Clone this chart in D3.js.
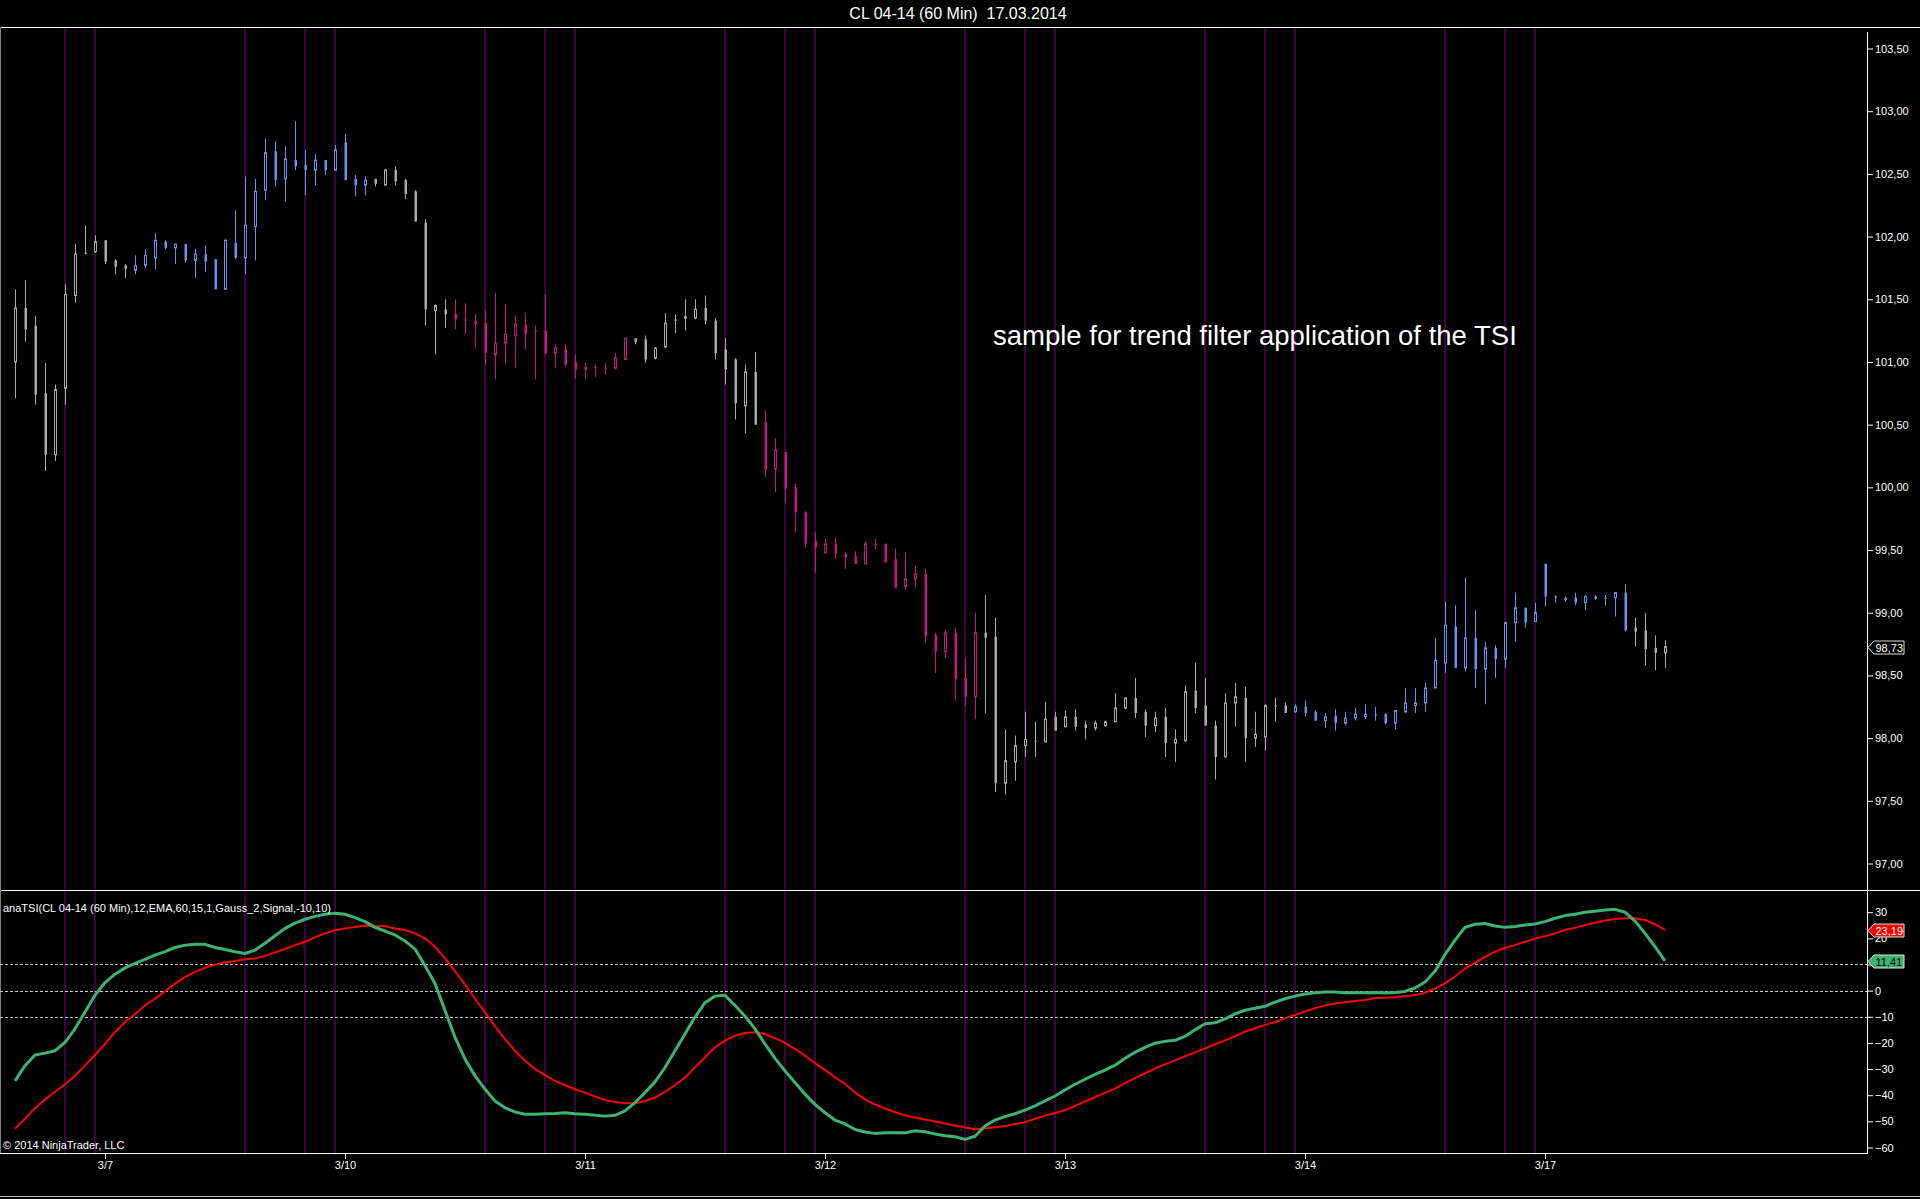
<!DOCTYPE html>
<html>
<head>
<meta charset="utf-8">
<title>CL 04-14 (60 Min) TSI</title>
<script src="https://cdn.jsdelivr.net/npm/d3@7"></script>
<style>
  html, body { margin: 0; padding: 0; background: #000; overflow: hidden; }
  svg { display: block; }
  text { font-family: "Liberation Sans", Arial, sans-serif; }
</style>
</head>
<body>
<div id="chart"></div>
<script>
// hourly bars
const opens = [101.00,101.43,101.29,100.75,100.26,100.79,101.53,101.87,101.88,101.97,101.81,101.77,101.73,101.77,101.83,101.96,101.91,101.94,101.81,101.86,
101.82,101.58,101.95,101.83,102.08,102.37,102.68,102.46,102.61,102.57,102.53,102.61,102.53,102.75,102.46,102.41,102.46,102.41,102.53,102.45,
102.36,102.11,101.41,101.42,101.38,101.34,101.33,101.31,101.06,101.15,101.21,101.30,101.25,101.25,101.07,101.10,101.00,100.96,100.96,100.95,
100.95,101.02,101.19,101.18,101.03,101.12,101.34,101.35,101.35,101.43,101.33,101.10,101.02,100.65,100.92,100.52,100.15,100.28,100.00,99.80,
99.57,99.48,99.55,99.47,99.45,99.39,99.55,99.55,99.43,99.21,99.27,99.31,98.82,98.69,98.84,98.48,98.33,98.84,98.81,97.64,
97.81,97.94,97.98,97.97,98.17,98.09,98.17,98.11,98.08,98.10,98.13,98.24,98.32,98.21,98.10,98.17,97.96,97.98,98.38,98.26,
98.10,97.85,98.28,98.32,98.00,98.01,98.26,98.26,98.21,98.25,98.21,98.14,98.18,98.12,98.16,98.17,98.19,98.19,98.12,98.21,
98.26,98.28,98.40,98.60,98.89,98.56,98.80,98.55,98.72,98.63,98.92,99.04,98.93,99.39,99.13,99.12,99.12,99.08,99.13,99.12,
99.12,99.16,98.88,98.86,98.72,98.68];
const highs = [101.58,101.65,101.37,100.99,100.82,101.62,101.94,102.09,102.01,101.97,101.82,101.78,101.85,101.90,102.03,101.97,101.94,101.94,101.90,101.93,
101.82,101.98,102.21,102.48,102.46,102.78,102.76,102.72,102.92,102.69,102.66,102.61,102.73,102.82,102.49,102.48,102.46,102.54,102.56,102.46,
102.37,102.14,101.46,101.50,101.50,101.47,101.38,101.41,101.55,101.46,101.37,101.39,101.29,101.54,101.14,101.14,101.06,100.99,100.98,100.99,
101.07,101.19,101.19,101.21,101.12,101.39,101.38,101.50,101.50,101.53,101.35,101.19,101.03,100.98,101.08,100.62,100.39,100.28,100.03,99.81,
99.64,99.59,99.60,99.48,99.49,99.57,99.59,99.55,99.51,99.48,99.37,99.35,98.84,98.86,98.88,98.64,99.00,99.14,98.96,98.07,
98.02,98.21,98.13,98.29,98.21,98.22,98.23,98.14,98.14,98.14,98.36,98.32,98.48,98.23,98.21,98.24,98.07,98.42,98.60,98.48,
98.14,98.36,98.44,98.41,98.21,98.27,98.32,98.28,98.27,98.30,98.22,98.20,98.23,98.21,98.24,98.27,98.25,98.20,98.22,98.40,
98.40,98.44,98.80,99.09,99.06,99.28,99.02,98.77,98.74,98.93,99.16,99.04,99.08,99.39,99.14,99.13,99.16,99.14,99.14,99.14,
99.16,99.23,98.96,99.00,98.82,98.78];
const lows = [100.71,101.16,100.66,100.13,100.21,100.66,101.47,101.86,101.87,101.78,101.70,101.67,101.70,101.75,101.74,101.90,101.78,101.79,101.67,101.72,
101.58,101.58,101.82,101.70,101.81,102.29,102.40,102.28,102.53,102.33,102.41,102.49,102.53,102.45,102.32,102.33,102.40,102.41,102.41,102.30,
102.12,101.29,101.06,101.27,101.26,101.22,101.11,100.98,100.86,100.98,100.95,101.10,100.86,101.06,100.95,100.96,100.87,100.86,100.88,100.90,
100.94,101.02,101.14,100.99,101.02,101.11,101.23,101.25,101.34,101.30,101.02,100.82,100.54,100.43,100.50,100.08,99.96,99.88,99.64,99.52,
99.32,99.47,99.43,99.35,99.39,99.39,99.51,99.40,99.20,99.18,99.20,98.76,98.52,98.64,98.30,98.26,98.15,98.20,97.57,97.55,
97.66,97.85,97.85,97.97,98.06,98.09,98.06,97.99,98.06,98.09,98.13,98.23,98.16,98.01,98.05,97.85,97.81,97.97,98.20,98.10,
97.67,97.85,98.09,97.81,97.93,97.90,98.13,98.20,98.20,98.17,98.14,98.08,98.06,98.10,98.14,98.15,98.14,98.11,98.07,98.20,
98.20,98.21,98.40,98.52,98.56,98.53,98.40,98.27,98.48,98.56,98.77,98.88,98.93,99.05,99.08,99.09,99.06,99.02,99.10,99.06,
98.97,98.85,98.73,98.58,98.54,98.56];
const closes = [101.43,101.26,100.74,100.26,100.78,101.54,101.86,101.86,101.96,101.80,101.76,101.74,101.77,101.85,101.97,101.91,101.94,101.81,101.86,101.80,
101.58,101.97,101.83,102.09,102.36,102.67,102.45,102.62,102.56,102.53,102.61,102.53,102.69,102.45,102.41,102.45,102.42,102.53,102.44,102.34,
102.12,101.42,101.45,101.38,101.34,101.33,101.30,101.07,101.15,101.22,101.30,101.22,101.24,101.07,101.11,100.98,100.94,100.94,100.95,100.95,
101.03,101.19,101.16,101.02,101.11,101.31,101.33,101.36,101.42,101.33,101.07,100.94,100.67,100.92,100.50,100.14,100.30,99.99,99.80,99.55,
99.52,99.55,99.47,99.44,99.39,99.55,99.54,99.40,99.20,99.27,99.31,98.81,98.69,98.84,98.47,98.33,98.84,98.80,97.64,97.82,
97.94,97.99,97.98,98.15,98.06,98.17,98.09,98.08,98.12,98.13,98.24,98.32,98.20,98.10,98.16,97.96,97.99,98.37,98.24,98.10,
97.85,98.28,98.33,98.00,98.03,98.26,98.26,98.20,98.25,98.20,98.14,98.17,98.12,98.16,98.19,98.19,98.18,98.12,98.22,98.28,
98.28,98.40,98.62,98.90,98.56,98.80,98.55,98.72,98.63,98.92,99.04,98.92,99.00,99.13,99.12,99.10,99.08,99.13,99.11,99.12,
99.16,98.86,98.85,98.71,98.68,98.73];
// trend filter state per bar: n = neutral, u = up, d = down
const trendRuns = [['n',12],['u',24],['n',8],['d',18],['n',13],['d',22],['n',31],['u',34],['n',4]];

// anaTSI and its signal line, one value per bar
const tsi = [-34.5,-28.7,-24.6,-23.9,-23.0,-19.8,-14.6,-8.2,-1.8,3.1,6.3,8.7,10.4,12.0,13.6,14.9,16.5,17.4,17.7,17.7,
16.5,15.7,14.9,14.2,15.5,18.1,21.0,23.8,25.8,27.3,28.4,29.2,29.6,29.2,27.9,26.4,24.2,22.8,21.3,19.0,
15.9,9.5,2.7,-7.6,-17.8,-26.2,-32.6,-37.7,-42.2,-44.8,-46.4,-47.3,-47.3,-47.1,-47.0,-46.7,-47.1,-47.3,-47.7,-48.0,
-47.7,-46.0,-42.8,-39.0,-34.9,-29.4,-23.0,-16.6,-10.1,-4.6,-2.1,-1.8,-5.7,-9.8,-14.6,-20.4,-25.9,-30.7,-35.1,-39.6,
-43.5,-46.7,-49.5,-51.0,-53.1,-54.1,-54.6,-54.4,-54.4,-54.4,-53.6,-54.0,-54.8,-55.5,-55.9,-56.9,-55.7,-51.8,-49.5,-48.2,
-47.1,-45.7,-44.1,-42.2,-40.3,-38.0,-35.8,-33.9,-32.0,-30.4,-28.5,-25.9,-23.6,-21.7,-20.1,-19.4,-19.0,-17.5,-15.0,-12.7,
-12.3,-10.8,-8.9,-7.5,-6.7,-6.0,-4.4,-3.1,-2.1,-1.3,-0.8,-0.5,-0.5,-0.8,-0.8,-0.8,-0.7,-0.9,-0.7,-0.3,
1.0,3.3,7.4,13.8,19.3,24.2,25.4,25.7,24.7,24.2,24.5,25.1,25.5,26.4,27.7,28.7,29.2,30.0,30.4,30.8,
31.1,30.0,26.6,21.9,16.8,11.41];
const signal = [-52.8,-49.0,-45.0,-41.6,-38.7,-35.8,-32.6,-28.7,-24.6,-20.4,-15.9,-12.1,-8.9,-5.7,-3.1,-0.3,2.7,5.2,7.2,8.7,
10.0,10.8,11.3,12.0,12.3,13.2,14.6,15.9,17.4,18.7,20.4,21.9,23.1,23.8,24.3,24.9,24.7,24.6,23.8,23.2,
21.9,20.0,16.8,12.3,7.4,2.3,-3.1,-8.2,-13.6,-18.5,-23.0,-26.8,-30.0,-32.3,-34.5,-36.2,-37.7,-39.0,-40.5,-41.8,
-42.6,-43.1,-43.1,-42.2,-40.9,-38.7,-36.2,-33.2,-29.4,-25.5,-21.7,-19.1,-17.2,-16.2,-15.9,-16.6,-18.2,-20.0,-22.3,-24.9,
-27.7,-30.3,-33.2,-35.7,-39.0,-41.6,-43.5,-45.1,-46.4,-47.7,-48.5,-49.3,-50.0,-50.8,-51.6,-52.3,-53.0,-52.7,-52.3,-51.8,
-51.0,-50.3,-49.0,-47.8,-46.8,-45.7,-44.1,-42.4,-40.7,-39.1,-37.5,-35.4,-33.5,-31.6,-29.8,-28.2,-26.7,-25.1,-23.6,-22.1,
-20.5,-19.0,-17.5,-15.7,-14.4,-13.1,-12.1,-10.5,-9.3,-8.0,-6.7,-5.7,-4.9,-4.4,-4.0,-3.6,-2.8,-2.7,-2.5,-2.1,
-1.8,-0.8,0.8,2.8,5.4,8.4,10.6,12.9,14.9,16.4,17.4,18.7,19.9,20.8,21.9,23.2,24.0,25.1,26.0,26.8,
27.4,27.7,27.7,27.0,25.4,23.19];

// session markers (bar index) and date labels
const sessionBars = [5,8,23,29,32,47,53,56,71,77,80,95,101,104,119,125,128,143,149,152];
const dateBars = [9,33,57,81,105,129,153];
const dateLabels = ['3/7','3/10','3/11','3/12','3/13','3/14','3/17'];
const priceTicks = [97,97.5,98,98.5,99,99.5,100,100.5,101,101.5,102,102.5,103,103.5];
const tsiTicks = [30,20,10,0,-10,-20,-30,-40,-50,-60];
const tsiLevels = [10,0,-10];

const chartTitle = 'CL 04-14 (60 Min)  17.03.2014';
const indicatorLabel = 'anaTSI(CL 04-14 (60 Min),12,EMA,60,15,1,Gauss_2,Signal,-10,10)';
const note = 'sample for trend filter application of the TSI';
const copyright = '\u00a9 2014 NinjaTrader, LLC';

function graphIt() {
  const w = 1920;
  const h = 1199;
  const axisX = 1867;
  const upper = { top: 27, bottom: 890 };
  const lower = { top: 890, bottom: 1153 };
  const white = '#ffffff';
  const trendColor = { n: '#aaaaaa', u: '#6495ed', d: '#c71585' };

  const trend = [];
  trendRuns.forEach(function(r) {
    for (let k = 0; k < r[1]; k++) trend.push(r[0]);
  });
  const bars = opens.map(function(o, i) {
    return { i: i, o: o, h: highs[i], l: lows[i], c: closes[i], t: trend[i] };
  });

  const svg = d3.select('#chart')
    .append('svg')
    .attr('width', w)
    .attr('height', h);

  svg.append('rect').attr('width', w).attr('height', h).attr('fill', '#000');

  // scales
  const x = d3.scaleLinear().domain([0, bars.length - 1]).range([15, 15 + 10 * (bars.length - 1)]);
  const y = d3.scaleLinear().domain([97, 103.5]).range([863.5, 48.5]);
  const yT = d3.scaleLinear().domain([-60, 30]).range([1147.5, 912.2]);
  const comma = function(f) { return function(d) { return d3.format(f)(d).replace('.', ','); }; };

  // session lines through both panels
  svg.append('g')
    .selectAll('line')
    .data(sessionBars)
    .enter().append('line')
    .attr('x1', function(d) { return x(d); })
    .attr('x2', function(d) { return x(d); })
    .attr('y1', upper.top + 1)
    .attr('y2', lower.bottom)
    .attr('stroke', '#3f003f')
    .attr('stroke-width', 2);

  // frame
  const frame = svg.append('g').attr('stroke', white).attr('stroke-width', 1).attr('shape-rendering', 'crispEdges');
  frame.append('line').attr('x1', 0).attr('x2', w).attr('y1', upper.top + 0.5).attr('y2', upper.top + 0.5);
  frame.append('line').attr('x1', 0).attr('x2', w).attr('y1', upper.bottom + 0.5).attr('y2', upper.bottom + 0.5);
  frame.append('line').attr('x1', 0).attr('x2', axisX).attr('y1', lower.bottom + 0.5).attr('y2', lower.bottom + 0.5);
  frame.append('line').attr('x1', axisX + 0.5).attr('x2', axisX + 0.5).attr('y1', 32).attr('y2', lower.bottom + 1);
  frame.append('line').attr('x1', 0).attr('x2', w).attr('y1', h - 2.5).attr('y2', h - 2.5).attr('stroke', '#c0c0c0');
  frame.append('line').attr('x1', 0.5).attr('x2', 0.5).attr('y1', upper.top).attr('y2', lower.bottom).attr('stroke', '#808080');

  // title
  svg.append('text')
    .attr('x', 958)
    .attr('y', 19)
    .attr('text-anchor', 'middle')
    .attr('fill', white)
    .style('font-size', '16px')
    .style('white-space', 'pre')
    .text(chartTitle);

  // candles
  const candle = svg.append('g')
    .selectAll('.bar')
    .data(bars)
    .enter().append('g')
    .attr('class', 'bar');

  candle.append('line')
    .attr('x1', function(d) { return x(d.i) + 0.5; })
    .attr('x2', function(d) { return x(d.i) + 0.5; })
    .attr('y1', function(d) { return y(d.h); })
    .attr('y2', function(d) { return y(d.l); })
    .attr('stroke', function(d) { return trendColor[d.t]; })
    .attr('stroke-width', 1);

  candle.append('rect')
    .attr('x', function(d) { return x(d.i) - 0.5; })
    .attr('y', function(d) { return y(Math.max(d.o, d.c)); })
    .attr('width', function(d) { return d.c > d.o ? 2 : 2.5; })
    .attr('height', function(d) { return Math.max(1, y(Math.min(d.o, d.c)) - y(Math.max(d.o, d.c))); })
    .attr('fill', function(d) { return d.c > d.o ? '#000' : trendColor[d.t]; })
    .attr('stroke', function(d) { return d.c > d.o ? trendColor[d.t] : 'none'; })
    .attr('stroke-width', 1);

  // price axis
  const yAxis = svg.append('g')
    .attr('class', 'y axis')
    .attr('transform', 'translate(' + axisX + ',0)')
    .call(d3.axisRight(y).tickValues(priceTicks).tickSize(6).tickPadding(2).tickFormat(comma('.2f')));

  // the 10 label sits under the TSI value marker, as in the original
  const tAxis = svg.append('g')
    .attr('class', 't axis')
    .attr('transform', 'translate(' + axisX + ',0)')
    .call(d3.axisRight(yT).tickValues(tsiTicks).tickSize(6).tickPadding(2)
      .tickFormat(function(d) { return d === 10 ? '' : d3.format('d')(d); }));

  const xAxis = svg.append('g')
    .attr('class', 'x axis')
    .attr('transform', 'translate(0,' + lower.bottom + ')')
    .call(d3.axisBottom(x).tickValues(dateBars).tickSize(6).tickPadding(2)
      .tickFormat(function(d, i) { return dateLabels[i]; }));

  [yAxis, tAxis, xAxis].forEach(function(a) {
    a.select('.domain').remove();
    a.selectAll('line').attr('stroke', white);
    a.selectAll('text').attr('fill', white).style('font-size', '11px')
      .style('font-family', '"Liberation Sans", Arial, sans-serif');
  });

  // level lines
  svg.append('g')
    .selectAll('line')
    .data(tsiLevels)
    .enter().append('line')
    .attr('x1', 0)
    .attr('x2', axisX)
    .attr('y1', function(d) { return Math.round(yT(d)) + 0.5; })
    .attr('y2', function(d) { return Math.round(yT(d)) + 0.5; })
    .attr('stroke', '#c8c8c8')
    .attr('stroke-width', 1)
    .attr('stroke-dasharray', '3,2');

  // indicator lines
  const line = d3.line()
    .x(function(d, i) { return x(i); })
    .y(function(d) { return yT(d); });

  svg.append('path')
    .attr('d', line(signal))
    .attr('fill', 'none')
    .attr('stroke', '#ff0000')
    .attr('stroke-width', 2)
    .attr('stroke-linejoin', 'round');

  svg.append('path')
    .attr('d', line(tsi))
    .attr('fill', 'none')
    .attr('stroke', '#3cb371')
    .attr('stroke-width', 3)
    .attr('stroke-linejoin', 'round');

  // labels
  svg.append('text')
    .attr('x', 3).attr('y', 912)
    .attr('fill', white)
    .style('font-size', '11px')
    .text(indicatorLabel);

  svg.append('text')
    .attr('x', 3).attr('y', 1149)
    .attr('fill', white)
    .style('font-size', '11px')
    .text(copyright);

  svg.append('text')
    .attr('x', 993).attr('y', 345)
    .attr('fill', white)
    .style('font-size', '27.5px')
    .text(note);

  // last value markers on the axis
  const markers = [
    { v: y(closes[closes.length - 1]), label: comma('.2f')(closes[closes.length - 1]), fill: '#000', text: white },
    { v: yT(signal[signal.length - 1]), label: comma('.2f')(signal[signal.length - 1]), fill: '#ff0000', text: white },
    { v: yT(tsi[tsi.length - 1]), label: comma('.2f')(tsi[tsi.length - 1]), fill: '#3cb371', text: '#000' }
  ];

  const marker = svg.append('g')
    .selectAll('.marker')
    .data(markers)
    .enter().append('g')
    .attr('class', 'marker')
    .attr('transform', function(d) { return 'translate(' + (axisX + 0.5) + ',' + Math.round(d.v) + ')'; });

  marker.append('path')
    .attr('d', 'M0.5,0.5L6.5,-6L36.5,-6L36.5,7L6.5,7Z')
    .attr('fill', function(d) { return d.fill; })
    .attr('stroke', '#e0e0e0')
    .attr('stroke-width', 1);

  marker.append('text')
    .attr('x', 8)
    .attr('y', 4.5)
    .attr('fill', function(d) { return d.text; })
    .style('font-size', '11px')
    .text(function(d) { return d.label; });
}

graphIt();
</script>
</body>
</html>
